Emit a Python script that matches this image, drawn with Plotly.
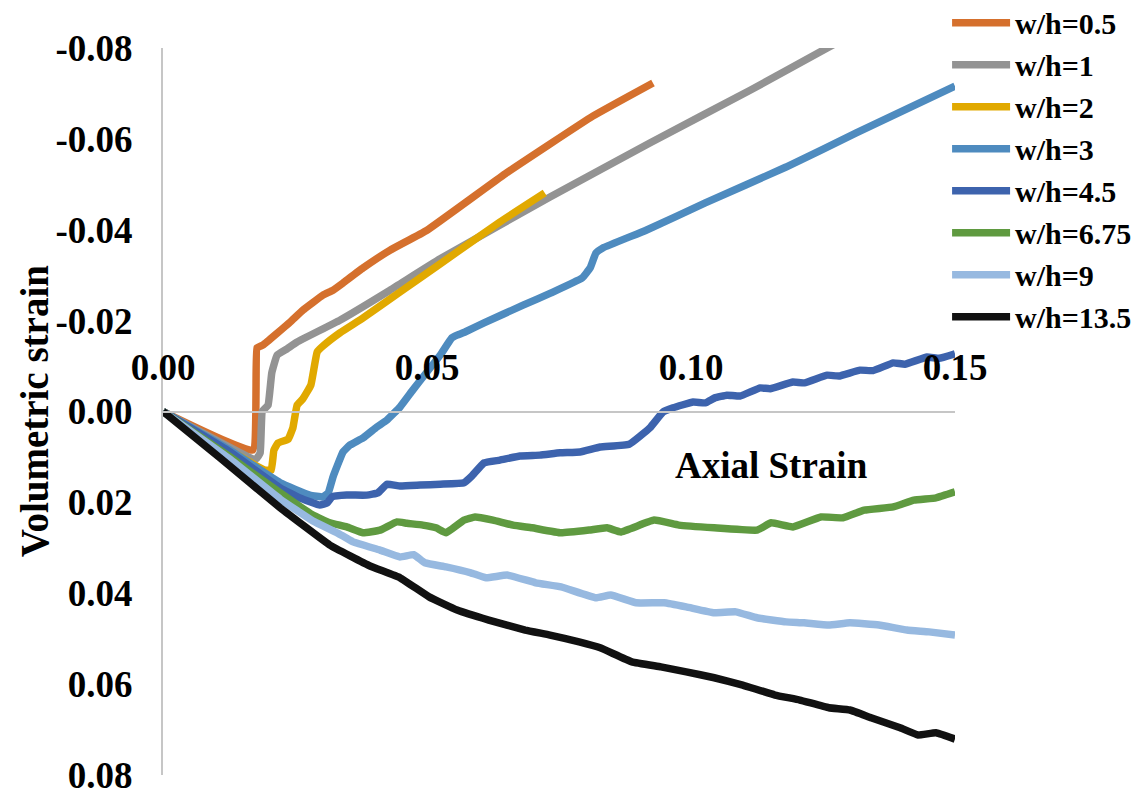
import plotly.graph_objects as go

# ---------------- data ----------------
series_names = ["w/h=0.5", "w/h=1", "w/h=2", "w/h=3", "w/h=4.5", "w/h=6.75", "w/h=9", "w/h=13.5"]
series_colors = ["#D5702D", "#939393", "#E1A900", "#4E8BBF", "#3D63AD", "#5F9A40", "#97B9E0", "#111111"]

x_wh05 = [0.0, 0.0170, 0.0178, 0.0189, 0.0241, 0.0265, 0.0303, 0.0322, 0.0341, 0.0379, 0.0430, 0.0500,
          0.0648, 0.0814, 0.0928]
y_wh05 = [0.0, 0.0085, -0.0140, -0.0146, -0.0197, -0.0223, -0.0256, -0.0267, -0.0283, -0.0316, -0.0355, -0.0399,
          -0.0523, -0.0650, -0.0723]

x_wh1 = [0.0, 0.0176, 0.0184, 0.0188, 0.0199, 0.0206, 0.0216, 0.0235, 0.0254, 0.0335, 0.0430, 0.0525,
         0.0733, 0.0922, 0.1112, 0.1258, 0.1320]
y_wh1 = [0.0, 0.0105, 0.0091, 0.0000, -0.0014, -0.0085, -0.0124, -0.0138, -0.0153, -0.0201, -0.0267, -0.0336,
         -0.0472, -0.0591, -0.0707, -0.0800, -0.0839]

x_wh2 = [0.0, 0.0193, 0.0205, 0.0210, 0.0218, 0.0237, 0.0246, 0.0254, 0.0265, 0.0280, 0.0292, 0.0303,
         0.0335, 0.0379, 0.0449, 0.0525, 0.0638, 0.0723]
y_wh2 = [0.0, 0.0129, 0.0129, 0.0085, 0.0069, 0.0061, 0.0036, -0.0014, -0.0028, -0.0058, -0.0131, -0.0144,
         -0.0173, -0.0206, -0.0263, -0.0325, -0.0417, -0.0481]

x_wh3 = [0.0, 0.0127, 0.0222, 0.0278, 0.0303, 0.0313, 0.0322, 0.0341, 0.0354, 0.0379, 0.0405, 0.0424,
         0.0449, 0.0473, 0.0500, 0.0525, 0.0547, 0.0557, 0.0572, 0.0608, 0.0682, 0.0735, 0.0794, 0.0809,
         0.0820, 0.0833, 0.0915, 0.1027, 0.1180, 0.1313, 0.1500]
y_wh3 = [0.0, 0.0085, 0.0157, 0.0184, 0.0188, 0.0179, 0.0144, 0.0089, 0.0074, 0.0058, 0.0034, 0.0019,
         -0.0010, -0.0047, -0.0087, -0.0124, -0.0162, -0.0168, -0.0175, -0.0195, -0.0234, -0.0261, -0.0294,
         -0.0316, -0.0349, -0.0360, -0.0399, -0.0459, -0.0538, -0.0613, -0.0716]

x_wh45 = [0.0, 0.0127, 0.0222, 0.0259, 0.0297, 0.0311, 0.0320, 0.0348, 0.0386, 0.0407, 0.0424, 0.0449,
          0.0487, 0.0525, 0.0570, 0.0585, 0.0608, 0.0638, 0.0676, 0.0714, 0.0752, 0.0790, 0.0828, 0.0883,
          0.0922, 0.0947, 0.0966, 0.1004, 0.1027, 0.1045, 0.1068, 0.1093, 0.1131, 0.1150, 0.1193, 0.1215,
          0.1258, 0.1280, 0.1320, 0.1345, 0.1383, 0.1405, 0.1447, 0.1470, 0.1500]
y_wh45 = [0.0, 0.0089, 0.0168, 0.0190, 0.0206, 0.0201, 0.0188, 0.0184, 0.0184, 0.0179, 0.0160, 0.0164,
          0.0162, 0.0160, 0.0157, 0.0142, 0.0113, 0.0107, 0.0098, 0.0096, 0.0091, 0.0089, 0.0078, 0.0072,
          0.0036, 0.0001, -0.0008, -0.0021, -0.0019, -0.0030, -0.0036, -0.0034, -0.0052, -0.0050, -0.0065,
          -0.0063, -0.0080, -0.0078, -0.0091, -0.0090, -0.0107, -0.0104, -0.0120, -0.0117, -0.0127]

x_wh675 = [0.0, 0.0127, 0.0222, 0.0284, 0.0316, 0.0348, 0.0379, 0.0411, 0.0443, 0.0462, 0.0492, 0.0517,
           0.0536, 0.0570, 0.0591, 0.0625, 0.0663, 0.0699, 0.0754, 0.0807, 0.0841, 0.0867, 0.0930, 0.0977,
           0.1044, 0.1125, 0.1152, 0.1193, 0.1246, 0.1288, 0.1328, 0.1383, 0.1422, 0.1464, 0.1500]
y_wh675 = [0.0, 0.0100, 0.0179, 0.0228, 0.0245, 0.0254, 0.0267, 0.0261, 0.0243, 0.0246, 0.0250, 0.0256,
           0.0267, 0.0239, 0.0232, 0.0239, 0.0250, 0.0256, 0.0267, 0.0261, 0.0256, 0.0265, 0.0239, 0.0250,
           0.0256, 0.0261, 0.0245, 0.0254, 0.0232, 0.0234, 0.0217, 0.0210, 0.0195, 0.0190, 0.0177]

x_wh9 = [0.0, 0.0127, 0.0222, 0.0284, 0.0330, 0.0360, 0.0411, 0.0449, 0.0475, 0.0496, 0.0536, 0.0583,
         0.0612, 0.0652, 0.0706, 0.0754, 0.0820, 0.0848, 0.0896, 0.0949, 0.0991, 0.1044, 0.1085, 0.1125,
         0.1180, 0.1214, 0.1261, 0.1301, 0.1356, 0.1409, 0.1451, 0.1500]
y_wh9 = [0.0, 0.0105, 0.0193, 0.0241, 0.0267, 0.0287, 0.0305, 0.0320, 0.0315, 0.0333, 0.0342, 0.0355,
         0.0366, 0.0360, 0.0377, 0.0386, 0.0410, 0.0404, 0.0421, 0.0421, 0.0430, 0.0443, 0.0441, 0.0454,
         0.0463, 0.0465, 0.0470, 0.0465, 0.0470, 0.0481, 0.0485, 0.0492]

x_wh135 = [0.0, 0.0108, 0.0222, 0.0316, 0.0392, 0.0449, 0.0504, 0.0557, 0.0617, 0.0686, 0.0733, 0.0788,
           0.0828, 0.0888, 0.0943, 0.0991, 0.1044, 0.1098, 0.1159, 0.1206, 0.1261, 0.1301, 0.1341, 0.1396,
           0.1430, 0.1464, 0.1500]
y_wh135 = [0.0, 0.0102, 0.0212, 0.0294, 0.0340, 0.0366, 0.0408, 0.0437, 0.0459, 0.0481, 0.0492, 0.0507,
           0.0520, 0.0551, 0.0562, 0.0573, 0.0586, 0.0602, 0.0624, 0.0635, 0.0652, 0.0657, 0.0674, 0.0696,
           0.0712, 0.0707, 0.0721]

x_tick_vals = [0.0, 0.05, 0.10, 0.15]
x_tick_text = ["0.00", "0.05", "0.10", "0.15"]
y_tick_vals = [-0.08, -0.06, -0.04, -0.02, 0.0, 0.02, 0.04, 0.06, 0.08]
y_tick_text = ["-0.08", "-0.06", "-0.04", "-0.02", "0.00", "0.02", "0.04", "0.06", "0.08"]

x_title = "Axial Strain"
y_title = "Volumetric strain"

# ---------------- figure ----------------
xs = [x_wh05, x_wh1, x_wh2, x_wh3, x_wh45, x_wh675, x_wh9, x_wh135]
ys = [y_wh05, y_wh1, y_wh2, y_wh3, y_wh45, y_wh675, y_wh9, y_wh135]

FONT = "Times New Roman, Liberation Serif, Tinos, DejaVu Serif, serif"

fig = go.Figure()
for name, color, xv, yv in zip(series_names, series_colors, xs, ys):
    fig.add_trace(go.Scatter(
        x=xv, y=yv, name=name, mode="lines",
        line=dict(color=color, width=7.5, shape="spline", smoothing=0.3),
    ))

axis_gray = "#C6C6C6"
fig.update_layout(
    width=1146, height=791, autosize=False,
    margin=dict(l=155, r=199, t=40, b=24, autoexpand=False),
    paper_bgcolor="white", plot_bgcolor="white",
    font=dict(family=FONT, color="black"),
    xaxis=dict(
        range=[0, 0.15], tickmode="array", tickvals=x_tick_vals, ticktext=x_tick_text,
        showgrid=False, zeroline=False, showline=True, linecolor=axis_gray, linewidth=2,
        anchor="free", position=0.5, side="top", ticks="",
        ticklabelstandoff=16,
        tickfont=dict(family=FONT, size=37, color="black", weight="bold"),
    ),
    yaxis=dict(
        range=[0.08, -0.08], tickmode="array", tickvals=y_tick_vals, ticktext=y_tick_text,
        showgrid=False, zeroline=False, showline=True, linecolor=axis_gray, linewidth=2,
        ticks="", ticklabelstandoff=21,
        tickfont=dict(family=FONT, size=37, color="black", weight="bold"),
    ),
    legend=dict(
        x=0.990, y=1.0705, xanchor="left", yanchor="top",
        bgcolor="rgba(0,0,0,0)", borderwidth=0,
        font=dict(family=FONT, size=30, color="black", weight="bold"),
        itemwidth=58, tracegroupgap=0,
    ),
    showlegend=True,
)

fig.add_annotation(
    text=x_title, xref="paper", yref="paper", x=0.768, y=0.426,
    xanchor="center", yanchor="middle", showarrow=False,
    font=dict(family=FONT, size=37, color="black", weight="bold"),
)
fig.add_annotation(
    text=y_title, xref="paper", yref="paper", x=-0.1620, y=0.5,
    xanchor="center", yanchor="middle", showarrow=False, textangle=-90,
    font=dict(family=FONT, size=39, color="black", weight="bold"),
)

fig.write_html("out.html")
